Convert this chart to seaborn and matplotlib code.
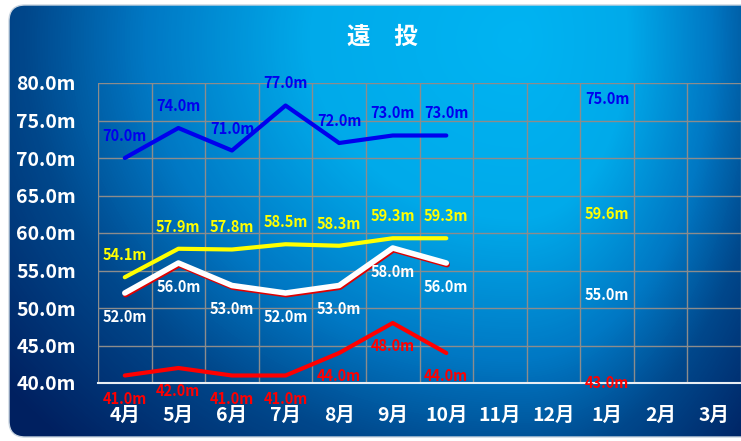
import numpy as np
import matplotlib
matplotlib.use('Agg')
import matplotlib.pyplot as plt
import matplotlib.patheffects as pe
from matplotlib.patches import FancyBboxPatch
from matplotlib.colors import LinearSegmentedColormap
import seaborn as sns

months = ['4月', '5月', '6月', '7月', '8月', '9月', '10月', '11月', '12月', '1月', '2月', '3月']
n_played = 7
best = [70.0, 74.0, 71.0, 77.0, 72.0, 73.0, 73.0]
average = [54.1, 57.9, 57.8, 58.5, 58.3, 59.3, 59.3]
middle = [52.0, 56.0, 53.0, 52.0, 53.0, 58.0, 56.0]
worst = [41.0, 42.0, 41.0, 41.0, 44.0, 48.0, 44.0]

# 1月 column only has labels, no line
goal_month = '1月'
goal_best = 75.0
goal_average = 59.6
goal_middle = 55.0
goal_worst = 43.0

yticks = [40, 45, 50, 55, 60, 65, 70, 75, 80]
title = '遠\u3000投'

sns.set_style('white')
plt.rcParams['font.family'] = ['Noto Sans CJK JP', 'DejaVu Sans']
plt.rcParams['font.weight'] = 'bold'

W, H = 741, 441
fig = plt.figure(figsize=(W / 100, H / 100), dpi=100)
fig.patch.set_facecolor('white')

# background panel with gradient
bg = fig.add_axes([0, 0, 1, 1])
bg.set_xlim(0, W)
bg.set_ylim(H, 0)
bg.axis('off')
yy, xx = np.mgrid[0:H, 0:W]
cx, cy = 520, 40
sx = np.where(xx < cx, 470, 240)
d = np.hypot((xx - cx) / sx, (yy - cy) / 400)
cmap = LinearSegmentedColormap.from_list('bg', [
    (0.0, '#00b4f2'), (0.32, '#00aaea'), (0.57, '#0078c4'),
    (0.75, '#00488c'), (1.0, '#002060')])
img = bg.imshow(d, cmap=cmap, vmin=0, vmax=1.4, extent=(0, W, H, 0), aspect='auto')
panel = FancyBboxPatch((9, 5), W + 30, 432, boxstyle='round,pad=0,rounding_size=16',
                       transform=bg.transData, facecolor='none', edgecolor='#c8d4e0', lw=1)
bg.add_patch(panel)
img.set_clip_path(panel)

ax = fig.add_axes([98 / W, (H - 383) / H, 643 / W, 300 / H])
ax.patch.set_alpha(0)

x = np.arange(n_played)
sns.lineplot(x=x, y=best, ax=ax, color='#0000ee', lw=3, zorder=3)
sns.lineplot(x=x, y=average, ax=ax, color='#ffff00', lw=3, zorder=3)
sns.lineplot(x=x, y=middle, ax=ax, color='white', lw=4, zorder=3,
             path_effects=[pe.SimpleLineShadow(offset=(0.6, -1.2), shadow_color='#e00000', alpha=1),
                           pe.Normal()])
sns.lineplot(x=x, y=worst, ax=ax, color='#ff0000', lw=3, zorder=3)

gi = months.index(goal_month)
series = [
    (best, goal_best, '#0000ee', 22),
    (average, goal_average, '#ffff00', 22),
    (middle, goal_middle, 'white', -24),
    (worst, goal_worst, '#ff0000', -23),
]
for vals, goal, col, dy in series:
    pts = list(zip(x, vals)) + [(gi, goal)]
    for xi, v in pts:
        ax.annotate(f'{v:.1f}m', (xi, v), xytext=(0, dy), textcoords='offset pixels',
                    ha='center', va='center', color=col, fontsize=10.5,
                    fontweight='bold', annotation_clip=False, zorder=4)

ax.set_xlim(-0.5, len(months) - 0.5)
ax.set_ylim(40, 80)
ax.set_xticks(range(len(months)), months)
ax.set_xticks(np.arange(-0.5, len(months), 1), minor=True)
ax.set_yticks(yticks, [f'{v:.1f}m' for v in yticks])
ax.grid(which='minor', axis='x', color='#8c8c8c', lw=1)
ax.grid(which='major', axis='y', color='#8c8c8c', lw=1)
ax.grid(which='major', axis='x', visible=False)
ax.tick_params(which='both', length=0)
ax.tick_params(axis='y', pad=16, labelsize=14, labelcolor='white')
ax.tick_params(axis='x', pad=16.5, labelsize=14, labelcolor='white')
for lab in ax.get_xticklabels() + ax.get_yticklabels():
    lab.set_fontweight('bold')
for s in ['left', 'top', 'right']:
    ax.spines[s].set_visible(False)
ax.spines['bottom'].set_color('#e8eef4')
ax.spines['bottom'].set_linewidth(1.5)
ax.set_xlabel('')
ax.set_ylabel('')

fig.text(382 / W, 1 - 37 / H, title, ha='center', va='center', color='white',
         fontsize=17, fontweight='bold')

fig.savefig('out.png', dpi=100)
